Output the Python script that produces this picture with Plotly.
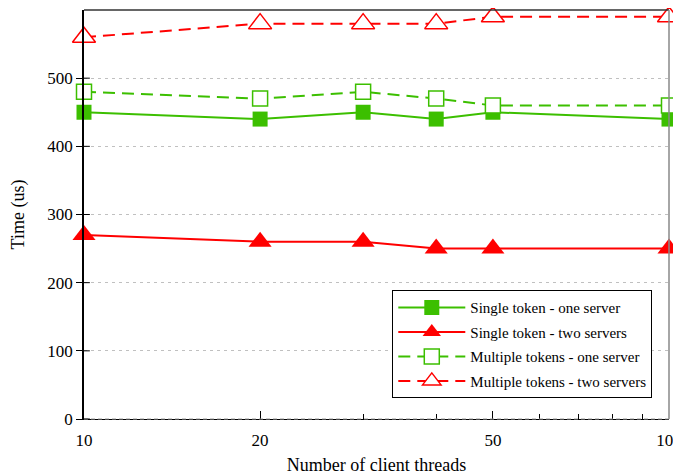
import plotly.graph_objects as go

threads = [10, 20, 30, 40, 50, 100]
single_one = [450, 440, 450, 440, 450, 440]
single_two = [270, 260, 260, 250, 250, 250]
multi_one = [480, 470, 480, 470, 460, 460]
multi_two = [560, 580, 580, 580, 590, 590]

series_names = ["Single token - one server", "Single token - two servers",
                "Multiple tokens - one server", "Multiple tokens - two servers"]

GREEN = "#3cbf00"
RED = "#ff0000"
DASH = "12px,7px"

fig = go.Figure()
fig.add_trace(go.Scatter(x=threads, y=single_one, name=series_names[0], mode="lines+markers",
                         legendgroup="a",
                         line=dict(color=GREEN, width=2),
                         marker=dict(symbol="square", size=15, color=GREEN, line=dict(width=0)),
                         cliponaxis=False))
fig.add_trace(go.Scatter(x=threads, y=single_two, name=series_names[1], mode="lines+markers",
                         legendgroup="b",
                         line=dict(color=RED, width=2),
                         marker=dict(symbol="triangle-up", size=20, color=RED, line=dict(width=0)),
                         cliponaxis=False))
fig.add_trace(go.Scatter(x=threads, y=multi_one, name=series_names[2], mode="lines+markers",
                         legendgroup="c",
                         line=dict(color=GREEN, width=2, dash=DASH),
                         marker=dict(symbol="square", size=15, color="white", line=dict(color=GREEN, width=1.5)),
                         cliponaxis=False))
fig.add_trace(go.Scatter(x=threads, y=multi_two, name=series_names[3], mode="lines+markers",
                         legendgroup="d",
                         line=dict(color=RED, width=2, dash=DASH),
                         marker=dict(symbol="triangle-up", size=20, color="white", line=dict(color=RED, width=1.5)),
                         cliponaxis=False))

font = "Liberation Serif, Times New Roman, serif"
fig.update_layout(
    width=673, height=467,
    margin=dict(l=76, r=12, t=2, b=56),
    plot_bgcolor="white", paper_bgcolor="white",
    font=dict(family=font, size=17, color="black"),
    xaxis=dict(type="log", range=[1, 2], tickvals=[10, 20, 50, 100], ticktext=["10", "20", "50", "100"],
               ticks="inside", ticklen=8, tickcolor="black", showgrid=False, zeroline=False,
               showline=True, linecolor="black", linewidth=1, automargin=False,
               ticklabelstandoff=6, ticklabeloverflow="allow",
               minor=dict(tickvals=[30, 40, 60, 70, 80, 90], ticks="inside", ticklen=5, tickcolor="black"),
               title=dict(text="Number of client threads", font=dict(size=18), standoff=8),
               tickfont=dict(size=17)),
    yaxis=dict(range=[0, 600], tickvals=[0, 100, 200, 300, 400, 500],
               ticks="outside", ticklen=6, tickcolor="black",
               showgrid=True, gridcolor="#c0c0c0", griddash="3px,4px", gridwidth=1, zeroline=False,
               showline=True, linecolor="black", linewidth=1.5, automargin=False,
               title=dict(text="Time (us)", font=dict(size=18), standoff=18),
               tickfont=dict(size=17)),
    legend=dict(x=0.527, y=0.315, xanchor="left", yanchor="top",
                bordercolor="black", borderwidth=1, bgcolor="white",
                font=dict(size=15), tracegroupgap=2, itemwidth=67),
    shapes=[
        dict(type="line", xref="paper", yref="paper", x0=0, x1=1, y0=1, y1=1,
             line=dict(color="#333333", width=1.5)),
        dict(type="line", xref="paper", yref="paper", x0=1, x1=1, y0=0, y1=1,
             line=dict(color="#888888", width=1.5)),
        dict(type="line", xref="paper", yref="paper", x0=0, x1=1, y0=0, y1=0,
             line=dict(color="#999999", width=1, dash="4px,3px")),
    ],
)
for v in [0, 100, 200, 300, 400, 500]:
    fig.add_shape(type="line", xref="x domain", yref="y", x0=0, x1=0.01, y0=v, y1=v,
                  line=dict(color="black", width=1))

fig.write_html("out.html")
